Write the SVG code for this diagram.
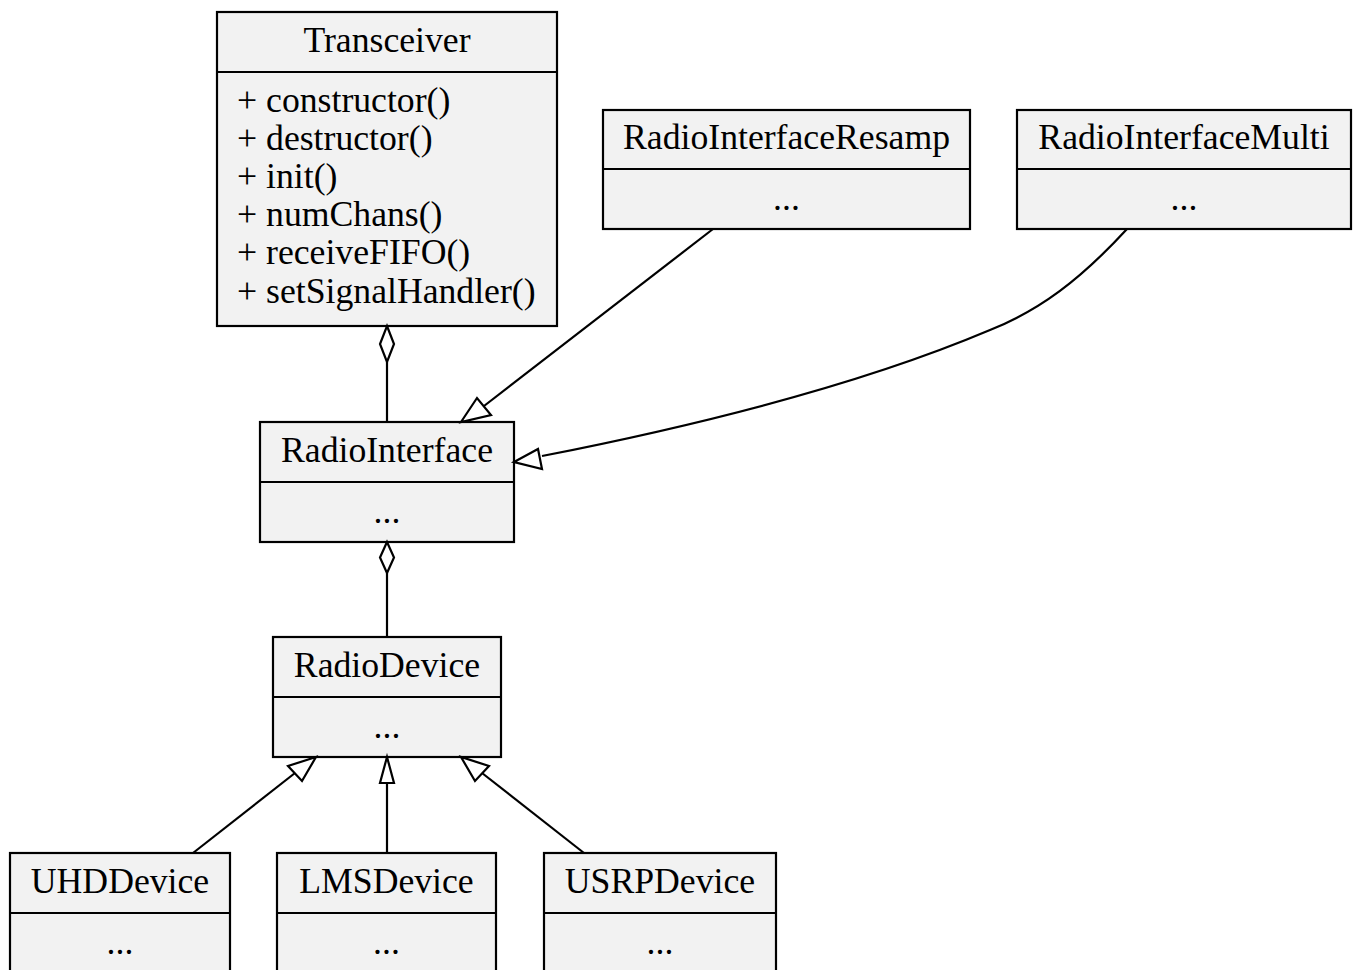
<svg xmlns="http://www.w3.org/2000/svg" width="1360" height="970" viewBox="0 0 1360 970">
<style>
.box{fill:#f2f2f2;stroke:#000;stroke-width:2.2}
.div{stroke:#000;stroke-width:2.2}
text{font-family:"Liberation Serif","Times New Roman",serif;font-size:35.7px;fill:#000}
.c{text-anchor:middle}
.e{fill:none;stroke:#000;stroke-width:2.2}
.gen{fill:#fff;stroke:#000;stroke-width:2.2}
</style>
<rect width="1360" height="970" fill="#fff"/>
<g id="Transceiver">
<rect class="box" x="217" y="12" width="340" height="314"/>
<line class="div" x1="217" y1="72" x2="557" y2="72"/>
<text class="c" x="387" y="52">Transceiver</text>
<text x="237" y="112">+ constructor()</text>
<text x="237" y="150">+ destructor()</text>
<text x="237" y="188">+ init()</text>
<text x="237" y="226">+ numChans()</text>
<text x="237" y="264">+ receiveFIFO()</text>
<text x="237" y="303">+ setSignalHandler()</text>
</g>
<g id="RadioInterfaceResamp">
<rect class="box" x="603" y="110" width="367" height="119"/>
<line class="div" x1="603" y1="169" x2="970" y2="169"/>
<text class="c" x="786.5" y="149">RadioInterfaceResamp</text>
<text class="c" x="786.5" y="210">...</text>
</g>
<g id="RadioInterfaceMulti">
<rect class="box" x="1017" y="110" width="334" height="119"/>
<line class="div" x1="1017" y1="169" x2="1351" y2="169"/>
<text class="c" x="1184" y="149">RadioInterfaceMulti</text>
<text class="c" x="1184" y="210">...</text>
</g>
<g id="RadioInterface">
<rect class="box" x="260" y="422" width="254" height="120"/>
<line class="div" x1="260" y1="482" x2="514" y2="482"/>
<text class="c" x="387" y="462">RadioInterface</text>
<text class="c" x="387" y="523">...</text>
</g>
<g id="RadioDevice">
<rect class="box" x="273" y="637" width="228" height="120"/>
<line class="div" x1="273" y1="697" x2="501" y2="697"/>
<text class="c" x="387" y="677">RadioDevice</text>
<text class="c" x="387" y="738">...</text>
</g>
<g id="UHDDevice">
<rect class="box" x="10" y="853" width="220" height="130"/>
<line class="div" x1="10" y1="913" x2="230" y2="913"/>
<text class="c" x="120" y="893">UHDDevice</text>
<text class="c" x="120" y="954">...</text>
</g>
<g id="LMSDevice">
<rect class="box" x="277" y="853" width="219" height="130"/>
<line class="div" x1="277" y1="913" x2="496" y2="913"/>
<text class="c" x="386.5" y="893">LMSDevice</text>
<text class="c" x="386.5" y="954">...</text>
</g>
<g id="USRPDevice">
<rect class="box" x="544" y="853" width="232" height="130"/>
<line class="div" x1="544" y1="913" x2="776" y2="913"/>
<text class="c" x="660" y="893">USRPDevice</text>
<text class="c" x="660" y="954">...</text>
</g>
<g id="connectors">
<line class="e" x1="387" y1="362" x2="387" y2="422"/>
<polygon class="gen" points="387,326 394,344 387,362 380,344"/>
<line class="e" x1="387" y1="573" x2="387" y2="637"/>
<polygon class="gen" points="387,542 394,557.5 387,573 380,557.5"/>
<line class="e" x1="713" y1="229" x2="484" y2="406"/>
<polygon class="gen" points="461,422 477,398 491,415"/>
<path class="e" d="M1127,229 C1080,280 1040,310 990,330 C860,385 700,425 542,456"/>
<polygon class="gen" points="514,462 538,449 542,469"/>
<line class="e" x1="193" y1="853" x2="295" y2="773"/>
<polygon class="gen" points="316,757 288,766 302,781"/>
<line class="e" x1="387" y1="853" x2="387" y2="783"/>
<polygon class="gen" points="387,757 380,783 394,783"/>
<line class="e" x1="584" y1="853" x2="482" y2="773"/>
<polygon class="gen" points="461,757 475,781 489,766"/>
</g>
</svg>
